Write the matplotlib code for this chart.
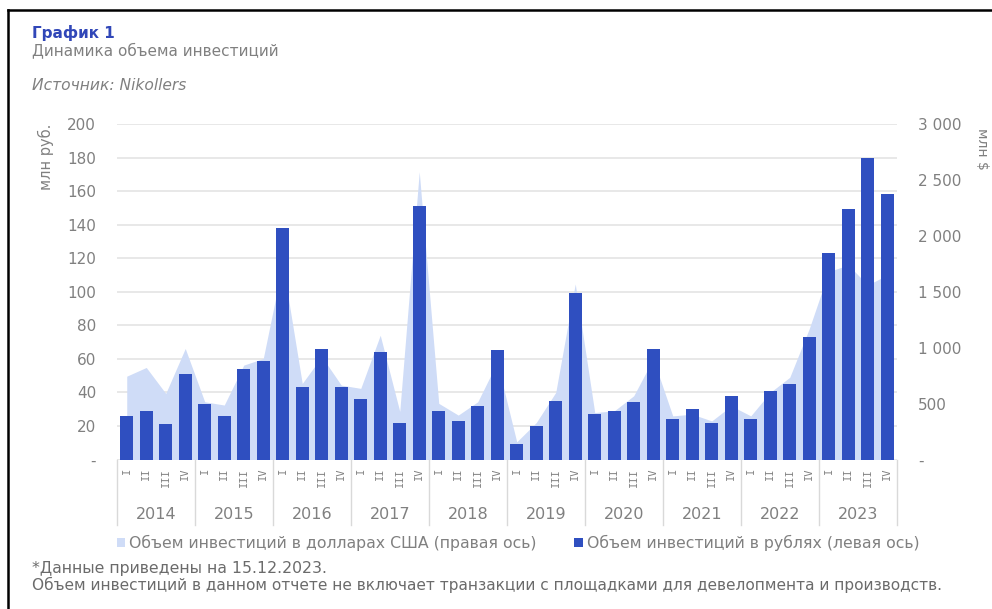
import matplotlib
matplotlib.use("Agg")
import matplotlib.pyplot as plt
from matplotlib.lines import Line2D
from matplotlib.patches import Patch
import matplotlib.transforms as mtransforms

# ---------------- data ----------------
years = ["2014", "2015", "2016", "2017", "2018", "2019", "2020", "2021", "2022", "2023"]
quarters = ["I", "II", "III", "IV"]

rub_values = [26, 29, 21, 51,
              33, 26, 54, 59,
              138, 43, 66, 43,
              36, 64, 22, 151,
              29, 23, 32, 65,
              9.5, 20, 35, 99,
              27, 29, 34, 66,
              24, 30, 22, 38,
              24, 41, 45, 73,
              123, 149.5, 180, 158]

usd_values = [745, 823, 591, 993,
              516, 487, 844, 903,
              1750, 680, 920, 665,
              636, 1111, 430, 2573,
              502, 397, 516, 870,
              158, 330, 600, 1570,
              420, 435, 570, 900,
              390, 405, 345, 480,
              390, 600, 735, 1170,
              1680, 1740, 1560, 1650]

left_ticks = [0, 20, 40, 60, 80, 100, 120, 140, 160, 180, 200]
left_ticklabels = ["-", "20", "40", "60", "80", "100", "120", "140", "160", "180", "200"]
right_ticks = [0, 500, 1000, 1500, 2000, 2500, 3000]
right_ticklabels = ["-", "500", "1 000", "1 500", "2 000", "2 500", "3 000"]

title = "График 1"
subtitle = "Динамика объема инвестиций"
source = "Источник: Nikollers"
left_label = "млн руб."
right_label = "млн $"
legend_usd = "Объем инвестиций в долларах США (правая ось)"
legend_rub = "Объем инвестиций в рублях (левая ось)"
note1 = "*Данные приведены на 15.12.2023."
note2 = "Объем инвестиций в данном отчете не включает транзакции с площадками для девелопмента и производств."

# ---------------- style ----------------
BAR = "#2f4fc0"
AREA = "#cfdcf7"
GRID = "#e4e4e4"
GRAY = "#808080"
TITLE_BLUE = "#3147b8"

plt.rcParams["font.family"] = ["DejaVu Sans"]

W, H = 992, 609
fig = plt.figure(figsize=(W / 100, H / 100), dpi=100)

x0, x1 = 117, 897
y_top, y_bot = 124, 459.5
ax2 = fig.add_axes([x0 / W, 1 - y_bot / H, (x1 - x0) / W, (y_bot - y_top) / H])
ax = fig.add_axes(ax2.get_position(), sharex=ax2)
ax.set_zorder(ax2.get_zorder() + 1)
ax.patch.set_visible(False)

n = len(rub_values)
xs = list(range(n))

# area (USD, right axis)
for v in range(0, 3001, 300):
    ax2.axhline(v, color=GRID, lw=1.2, zorder=0)
ax2.fill_between(xs, 0, usd_values, color=AREA, lw=0, zorder=1)
ax2.set_ylim(0, 3000)
ax2.set_xlim(-0.5, n - 0.5)

# bars (RUB, left axis)
ax.bar(xs, rub_values, width=0.66, color=BAR, zorder=3)
ax.set_ylim(0, 200)

for a in (ax, ax2):
    for s in a.spines.values():
        s.set_visible(False)

ax.set_yticks(left_ticks)
ax.set_yticklabels(left_ticklabels)
ax.tick_params(axis="y", length=0, pad=15, labelsize=11, labelcolor=GRAY)
ax.yaxis.set_ticks_position("left")

ax2.yaxis.tick_right()
ax2.set_yticks(right_ticks)
ax2.set_yticklabels(right_ticklabels)
ax2.tick_params(axis="y", length=0, pad=15, labelsize=11, labelcolor=GRAY)

# quarter labels
ax2.set_xticks(xs)
ax2.set_xticklabels(quarters * len(years), rotation=90, family="DejaVu Sans Mono",
                    fontsize=7.5, color=GRAY)
ax2.tick_params(axis="x", length=0, pad=6)
ax.tick_params(axis="x", which="both", length=0, labelbottom=False)

# year separators and labels
trans = mtransforms.blended_transform_factory(ax.transData, ax.transAxes)
sep_bottom = -(525 - y_bot) / (y_bot - y_top)
for k in range(len(years) + 1):
    xv = 4 * k - 0.5
    ax.add_line(Line2D([xv, xv], [0, sep_bottom], transform=trans, color="#d9d9d9",
                       lw=1, clip_on=False))
year_y = -(514.5 - y_bot) / (y_bot - y_top)
for k, yr in enumerate(years):
    ax.text(4 * k + 1.5, year_y, yr, transform=trans, ha="center", va="center",
            fontsize=11.5, color=GRAY)

# axis titles
fig.text(46 / W, 1 - 157 / H, left_label, rotation=90, ha="center", va="center",
         fontsize=10.5, color=GRAY)
fig.text(982 / W, 1 - 149 / H, right_label, rotation=270, ha="center", va="center",
         fontsize=10, color=GRAY)

# titles
fig.text(32 / W, 1 - 33 / H, title, ha="left", va="center", fontsize=11,
         fontweight="bold", color=TITLE_BLUE)
fig.text(32 / W, 1 - 50 / H, subtitle, ha="left", va="center", fontsize=11, color=GRAY)
fig.text(32 / W, 1 - 85 / H, source, ha="left", va="center", fontsize=11.2,
         style="italic", color=GRAY)

# legend
handles = [Patch(facecolor=AREA, edgecolor="none", label=legend_usd),
           Patch(facecolor=BAR, edgecolor="none", label=legend_rub)]
fig.legend(handles=handles, loc="center", bbox_to_anchor=(518 / W, 1 - 543 / H), ncol=2,
           frameon=False, fontsize=11.3, labelcolor=GRAY, handlelength=0.55,
           handleheight=0.55, handletextpad=0.25, columnspacing=2.4)

# notes
fig.text(32 / W, 1 - 568 / H, note1, ha="left", va="center", fontsize=11.3, color="#6b6b6b")
fig.text(32 / W, 1 - 585 / H, note2, ha="left", va="center", fontsize=11.1, color="#6b6b6b")

# border
fig.add_artist(Line2D([8 / W, 8 / W], [0, 1 - 10 / H], transform=fig.transFigure,
                      color="black", lw=1.8))
fig.add_artist(Line2D([8 / W, 1], [1 - 10 / H, 1 - 10 / H], transform=fig.transFigure,
                      color="black", lw=1.8))

fig.savefig("out.png", dpi=100)
